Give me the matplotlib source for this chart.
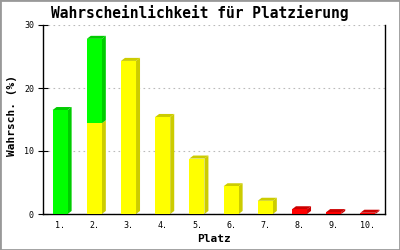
import matplotlib
matplotlib.use('Agg')
import matplotlib.pyplot as plt
from matplotlib.patches import Polygon, Rectangle
import numpy as np

# Werte (Prozent)
plaetze = ['1.', '2.', '3.', '4.', '5.', '6.', '7.', '8.', '9.', '10.']
gelb = [0, 14.4, 24.3, 15.4, 8.8, 4.4, 2.1, 0, 0, 0]
gruen = [16.5, 13.4, 0, 0, 0, 0, 0, 0, 0, 0]
rot = [0, 0, 0, 0, 0, 0, 0, 0.75, 0.3, 0.2]

mono = 'DejaVu Sans Mono'

fig = plt.figure(figsize=(4, 2.5), dpi=100)
ax = fig.add_axes([0.1075, 0.144, 0.855, 0.756])

x = np.arange(1, len(plaetze) + 1)
w = 0.44
dx = 0.117   # Tiefe, ca. 4px
dy = 0.48    # Tiefe, ca. 3px

total = np.array(gelb) + np.array(gruen) + np.array(rot)
bottom = np.zeros(len(x))
series = [(gelb, '#ffff00', '#cccc00'),
          (gruen, '#00ff00', '#00cc00'),
          (rot, '#ff0000', '#cc0000')]
for vals, front, dark in series:
    vals = np.array(vals, dtype=float)
    ax.bar(x, vals, w, bottom=bottom, color=front, linewidth=0, zorder=3)
    for i in range(len(x)):
        if vals[i] <= 0:
            continue
        x0 = x[i] - w / 2
        x1 = x[i] + w / 2
        b = bottom[i]
        t = bottom[i] + vals[i]
        ax.add_patch(Polygon([(x1, b), (x1 + dx, b + dy), (x1 + dx, t + dy), (x1, t)],
                             closed=True, fc=dark, ec='none', zorder=2))
        if t >= total[i] - 1e-9:
            ax.add_patch(Polygon([(x0, t), (x0 + dx, t + dy), (x1 + dx, t + dy), (x1, t)],
                                 closed=True, fc=dark, ec='none', zorder=2))
    bottom += vals

ax.set_xlim(0.5, 10.5)
ax.set_ylim(0, 30)
ax.set_xticks(x)
ax.set_xticklabels(plaetze, fontfamily=mono, fontsize=6)
ax.set_yticks([0, 10, 20, 30])
ax.set_yticklabels(['0', '10', '20', '30'], fontfamily=mono, fontsize=6)
ax.tick_params(axis='y', direction='inout', length=7, width=0.8, pad=3)
ax.tick_params(axis='x', length=0, pad=5)
ax.spines['top'].set_visible(False)
for s in ['left', 'right', 'bottom']:
    ax.spines[s].set_linewidth(1.0)
ax.set_axisbelow(True)
ax.yaxis.grid(True, color='#bbbbbb', linestyle=(0, (1.5, 3)), linewidth=0.8)

fig.text(0.5, 1 - 18 / 250, 'Wahrscheinlichkeit für Platzierung', ha='center',
         va='baseline', fontfamily=mono, fontsize=10.5, fontweight='bold')
fig.text(12 / 400, 1 - 116 / 250, 'Wahrsch. (%)', rotation=90, ha='center',
         va='center', fontfamily=mono, fontsize=8, fontweight='bold')
fig.text(214 / 400, 1 - 239 / 250, 'Platz', ha='center', va='center',
         fontfamily=mono, fontsize=8, fontweight='bold')

fig.add_artist(Rectangle((0, 0), 1, 1, transform=fig.transFigure, fill=False,
                         ec='#999999', lw=2))

fig.savefig('out.png', dpi=100)
